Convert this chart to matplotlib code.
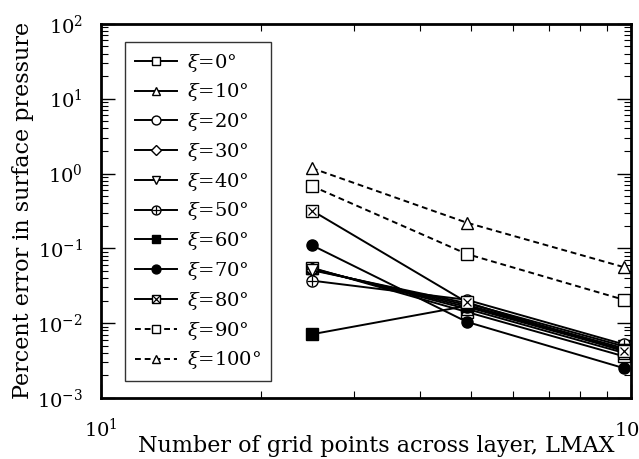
import numpy as np
import matplotlib
matplotlib.use("Agg")
import matplotlib.pyplot as plt
from matplotlib.ticker import LogLocator, NullFormatter
from matplotlib.legend_handler import HandlerTuple

plt.rcParams['font.family'] = ['DejaVu Serif']
plt.rcParams['mathtext.fontset'] = 'dejavuserif'

# 网格点数
lmax = [25, 49, 97]

# 各角度的误差(%)
xi_deg = [0, 10, 20, 30, 40, 50, 60, 70, 80, 90, 100]
err_0 = [0.055, 0.0141, 0.0036]
err_10 = [0.054, 0.0155, 0.0040]
err_20 = [0.053, 0.0165, 0.0043]
err_30 = [0.052, 0.0175, 0.0046]
err_40 = [0.051, 0.0185, 0.0049]
err_50 = [0.037, 0.0205, 0.0052]
err_60 = [0.0071, 0.0170, 0.0044]
err_70 = [0.11, 0.0104, 0.0025]
err_80 = [0.32, 0.0190, 0.0042]
err_90 = [0.68, 0.084, 0.0205]
err_100 = [1.18, 0.22, 0.056]
errors = [err_0, err_10, err_20, err_30, err_40, err_50,
          err_60, err_70, err_80, err_90, err_100]

# 标记样式: (底标记, 叠加标记)
markers = ['s', '^', 'o', 'D', 'v', 'o', 's', 'o', 's', 's', '^']
overlay = [None, None, None, None, None, '+', None, None, 'x', None, None]
filled = [False, False, False, False, False, False, True, True, False, False, False]
dashed = [False] * 9 + [True, True]

fig = plt.figure(figsize=(6.39, 4.59), dpi=100)
ax = fig.add_axes([0.158, 0.133, 0.8295, 0.815])

handles = []
labels = []
for xi, err, mk, ov, fl, ds in zip(xi_deg, errors, markers, overlay, filled, dashed):
    ms = 8
    if mk == 'D':
        ms = 6
    line, = ax.plot(lmax, err,
                    color='black',
                    linewidth=1.4,
                    linestyle=(0, (3, 2)) if ds else '-',
                    marker=mk,
                    markersize=ms,
                    markerfacecolor='black' if fl else 'white',
                    markeredgecolor='black',
                    markeredgewidth=1.0)
    h = line
    if ov is not None:
        ovl, = ax.plot(lmax, err, linestyle='none', marker=ov,
                       markersize=ms * 0.95 if ov == '+' else ms * 0.8,
                       color='black', markeredgewidth=0.9)
        h = (line, ovl)
    handles.append(h)
    labels.append(r'$\xi$=%d°' % xi)

ax.set_xscale('log')
ax.set_yscale('log')
ax.set_xlim(10, 100)
ax.set_ylim(1e-3, 1e2)

ax.yaxis.set_major_locator(LogLocator(base=10, numticks=10))
ax.yaxis.set_minor_locator(LogLocator(base=10, subs=np.arange(2, 10), numticks=10))
ax.yaxis.set_minor_formatter(NullFormatter())
ax.xaxis.set_minor_formatter(NullFormatter())

ax.tick_params(which='both', direction='in', top=True, right=True)
ax.tick_params(which='major', length=10, width=1.0, labelsize=14)
ax.tick_params(which='minor', length=5, width=0.8)
ax.tick_params(axis='x', which='major', pad=14)
ax.tick_params(axis='y', which='major', pad=13)
for sp in ax.spines.values():
    sp.set_linewidth(2)

ax.set_xlabel('Number of grid points across layer, LMAX', fontsize=16)
ax.xaxis.set_label_coords(0.52, -0.10)
ax.set_ylabel('Percent error in surface pressure', fontsize=16, labelpad=2)

leg = ax.legend(handles, labels, loc='upper left', bbox_to_anchor=(0.045, 0.952),
                borderaxespad=0, fancybox=False, frameon=True,
                edgecolor='black', fontsize=14, handlelength=2.2,
                handletextpad=0.5, labelspacing=0.40, borderpad=0.5,
                markerscale=0.8,
                handler_map={tuple: HandlerTuple(ndivide=1, pad=0)})
leg.get_frame().set_linewidth(1.0)

fig.savefig('out.png', dpi=100)
